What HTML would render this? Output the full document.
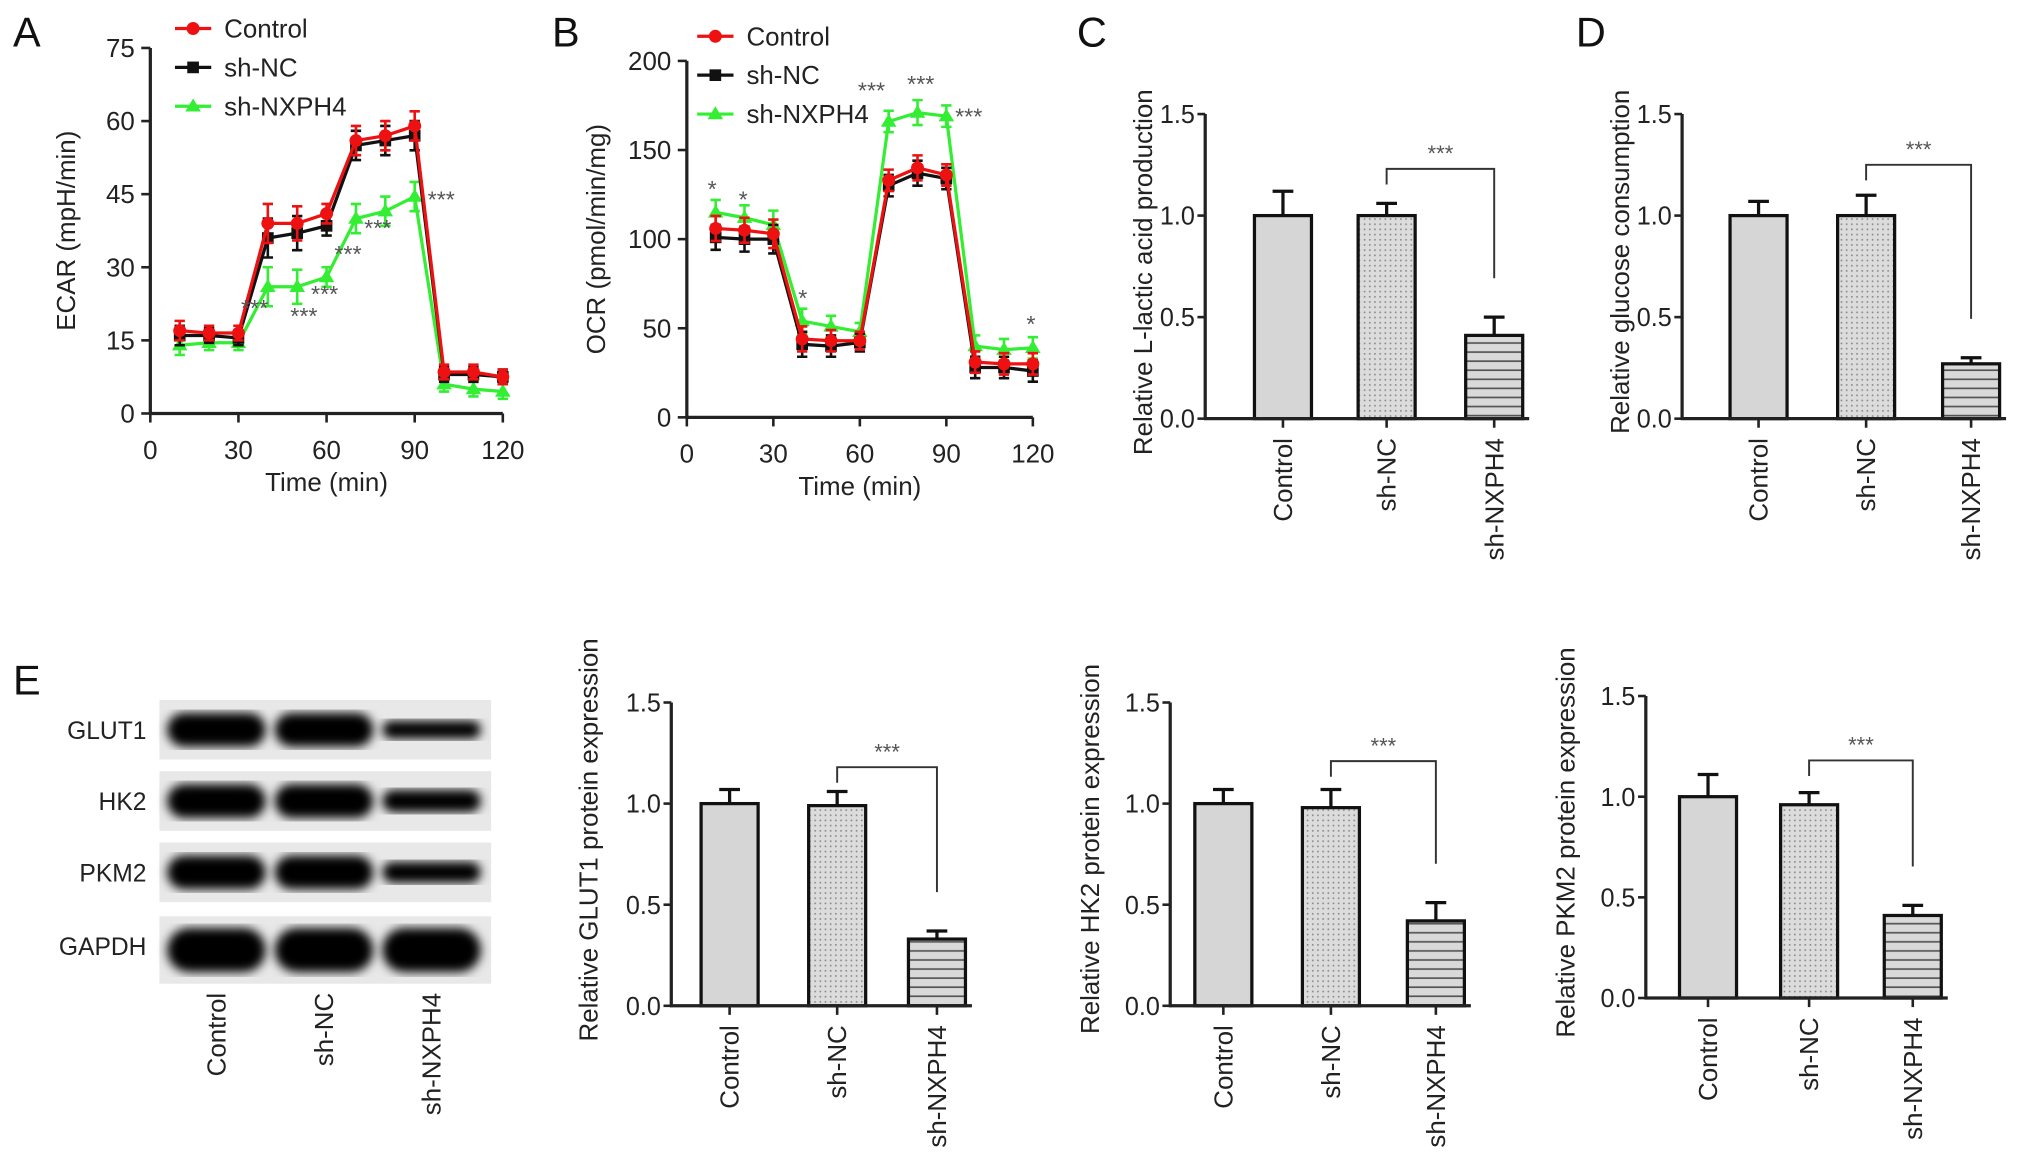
<!DOCTYPE html>
<html><head><meta charset="utf-8"><style>
html,body{margin:0;padding:0;background:#fff;}
svg{display:block;font-family:"Liberation Sans",Arial,sans-serif;}
</style></head><body>
<svg id="fig" width="2032" height="1173" viewBox="0 0 1568 905" preserveAspectRatio="none" xmlns="http://www.w3.org/2000/svg">
<defs>
<pattern id="dots" width="4" height="4" patternUnits="userSpaceOnUse"><rect width="4" height="4" fill="#dcdcdc"/><circle cx="1" cy="1" r="0.7" fill="#888"/></pattern>
<pattern id="stripes" width="6" height="7" patternUnits="userSpaceOnUse"><rect width="6" height="7" fill="#d9d9d9"/><rect y="5" width="6" height="1.3" fill="#555"/></pattern>
<filter id="blur"><feGaussianBlur stdDeviation="4"/></filter>
</defs>
</svg>
<script>
// ---- data ----
const times = [10,20,30,40,50,60,70,80,90,100,110,120];
const ecarControl = [17,16.5,16.5,39,39,41,56,57,59,8.5,8.5,7.5];
const ecarShNC = [16,16,15.5,36,37,38.5,55,56,57,8,8,7.5];
const ecarNXPH4 = [14,14.5,14.5,26,26,28,40,41.5,44.5,6,5,4.5];
const ecarErr = [2,1.5,1.5,4,3.5,2,3,3,3,1.5,1.5,1.5];
const ocrControl = [106,105,103,44,43,43,133,140,136,31,30,30];
const ocrShNC = [101,100,100,41,40,42,130,137,134,28,28,26];
const ocrNXPH4 = [115,112,108,54,51,48,166,171,169,40,38,39];
const ocrErr = [7,7,8,7,6,5,6,7,6,6,6,6];
const ecarTicks = [0,15,30,45,60,75];
const ocrTicks = [0,50,100,150,200];
const timeTicks = [0,30,60,90,120];
const groups = ['Control','sh-NC','sh-NXPH4'];
const barTicks = [0.0,0.5,1.0,1.5];
const lacticVals = [1.0,1.0,0.41];
const lacticErr = [0.12,0.06,0.09];
const glucoseVals = [1.0,1.0,0.27];
const glucoseErr = [0.07,0.1,0.03];
const glut1Vals = [1.0,0.99,0.33];
const glut1Err = [0.07,0.07,0.04];
const hk2Vals = [1.0,0.98,0.42];
const hk2Err = [0.07,0.09,0.09];
const pkm2Vals = [1.0,0.96,0.41];
const pkm2Err = [0.11,0.06,0.05];
const blotRows = ['GLUT1','HK2','PKM2','GAPDH'];
const blotIntensity = [[1,1,0.45],[1,1,0.6],[1,1,0.55],[1,1,1]];

const NS='http://www.w3.org/2000/svg';
const svg=document.getElementById('fig');
function el(tag,attrs,parent,text){const e=document.createElementNS(NS,tag);for(const k in attrs)e.setAttribute(k,attrs[k]);if(text!==undefined)e.textContent=text;(parent||svg).appendChild(e);return e;}
function fmt(v){return v.toFixed(1);}

[['A',10,36],['B',426,36],['C',831,36],['D',1216,36],['E',10,536]].forEach(p=>{
  const t=el('text',{x:p[1],y:p[2],'font-size':32,fill:'#111'},svg,p[0]);
  
  
});

function marker(shape,x,y,c,parent){
  if(shape==='circle')return el('circle',{cx:x,cy:y,r:5,fill:c},parent);
  if(shape==='tri')return el('path',{d:`M${x},${y-6}L${x+6},${y+4}L${x-6},${y+4}Z`,fill:c},parent);
  return el('rect',{x:x-4.5,y:y-4.5,width:9,height:9,fill:c},parent);
}

function lineChart(o){
  const g=el('g',{});
  
  
  const xs=t=>o.x0+(o.x1-o.x0)*t/120;
  const ys=v=>o.y0-(o.y0-o.y1)*v/o.ymax;
  el('line',{x1:o.x0,y1:o.y1,x2:o.x0,y2:o.y0+1,stroke:'#222','stroke-width':2.5},g);
  el('line',{x1:o.x0-1,y1:o.y0,x2:o.x1,y2:o.y0,stroke:'#222','stroke-width':2.5},g);
  o.yticks.forEach(v=>{el('line',{x1:o.x0-7,x2:o.x0,y1:ys(v),y2:ys(v),stroke:'#222','stroke-width':2},g);
    const t=el('text',{x:o.x0-12,y:ys(v)+7,'font-size':20,'text-anchor':'end',fill:'#222'},g,String(v));
    });
  timeTicks.forEach(v=>{el('line',{x1:xs(v),x2:xs(v),y1:o.y0,y2:o.y0+7,stroke:'#222','stroke-width':2},g);
    const t=el('text',{x:xs(v),y:o.y0+35,'font-size':20,'text-anchor':'middle',fill:'#222'},g,String(v));
    });
  const yl=el('text',{x:0,y:0,'font-size':20,'text-anchor':'middle',fill:'#222',transform:`translate(${o.ylx},${(o.y0+o.y1)/2}) rotate(-90)`},g,o.ylabel);
  
  const xl=el('text',{x:(o.x0+o.x1)/2,y:o.y0+60,'font-size':20,'text-anchor':'middle',fill:'#222'},g,'Time (min)');
  
  const series=[[o.nx,'#33ee33','sh-nxph4','tri'],[o.nc,'#111','sh-nc','sq'],[o.ctl,'#ee1111','control','circle']];
  series.forEach(s=>{
    const sg=el('g',{},g);
    
    el('polyline',{points:times.map((t,i)=>xs(t)+','+ys(s[0][i])).join(' '),fill:'none',stroke:s[1],'stroke-width':2.5},sg);
    times.forEach((t,i)=>{const x=xs(t),y=ys(s[0][i]),e=o.err[i]*(o.y0-o.y1)/o.ymax;
      el('path',{d:`M${x},${y-e}V${y+e}M${x-4},${y-e}H${x+4}M${x-4},${y+e}H${x+4}`,stroke:s[1],'stroke-width':2,fill:'none'},sg);
      const m=marker(s[3],x,y,s[1],sg);
      });
  });
  o.stars.forEach(s=>{const t=el('text',{x:s[0],y:s[1],'font-size':18,fill:'#555'},g,s[2]);
    });
  const lg=el('g',{},g);
  
  [['Control','#ee1111','circle'],['sh-NC','#111','sq'],['sh-NXPH4','#33ee33','tri']].forEach((l,i)=>{
    const y=o.ly+i*30;
    const eg=el('g',{},lg);
    
    el('line',{x1:o.lx-14,x2:o.lx+14,y1:y,y2:y,stroke:l[1],'stroke-width':2.5},eg);
    marker(l[2],o.lx,y,l[1],eg);
    el('text',{x:o.lx+24,y:y+7,'font-size':20,fill:'#222'},eg,l[0]);
  });
}
lineChart({name:'ecar-chart',x0:116,x1:388,y0:319,y1:37,ymax:75,yticks:ecarTicks,ctl:ecarControl,nc:ecarShNC,nx:ecarNXPH4,err:ecarErr,ylabel:'ECAR (mpH/min)',ylx:58,lx:149,ly:22,
  stars:[[186,244,'***'],[224,250,'***'],[240,233,'***'],[258,202,'***'],[281,182,'***'],[330,160,'***']]});
lineChart({name:'ocr-chart',x0:530,x1:797,y0:322,y1:47,ymax:200,yticks:ocrTicks,ctl:ocrControl,nc:ocrShNC,nx:ocrNXPH4,err:ocrErr,ylabel:'OCR (pmol/min/mg)',ylx:467,lx:552,ly:28,
  stars:[[546,152,'*'],[570,160,'*'],[616,236,'*'],[792,256,'*'],[662,76,'***'],[700,71,'***'],[737,96,'***']]});

function barChart(o){
  const g=el('g',{});
  
  const ys=v=>o.y0-(o.y0-o.y1)*v/1.5;
  const fills=['#d6d6d6','url(#dots)','url(#stripes)'];
  el('line',{x1:o.x0,y1:o.y1,x2:o.x0,y2:o.y0+1,stroke:'#222','stroke-width':2.5},g);
  barTicks.forEach(v=>{el('line',{x1:o.x0-6,x2:o.x0,y1:ys(v),y2:ys(v),stroke:'#222','stroke-width':2},g);
    const t=el('text',{x:o.x0-8,y:ys(v)+7,'font-size':20,'text-anchor':'end',fill:'#222',textLength:27,lengthAdjust:'spacingAndGlyphs'},g,fmt(v));
    });
  const bw=44;
  o.vals.forEach((v,i)=>{const cx=o.cx[i];
    const e=o.err[i];
    el('path',{d:`M${cx},${ys(v)}V${ys(v+e)}M${cx-8},${ys(v+e)}H${cx+8}`,stroke:'#111','stroke-width':2.5,fill:'none'},g);
    const r=el('rect',{x:cx-bw/2,y:ys(v),width:bw,height:o.y0-ys(v),fill:fills[i],stroke:'#111','stroke-width':2.5},g);
    
    el('line',{x1:cx,x2:cx,y1:o.y0,y2:o.y0+7,stroke:'#222','stroke-width':2},g);
    const t=el('text',{x:0,y:0,'font-size':20,'text-anchor':'end',fill:'#222',transform:`translate(${cx+7},${o.y0+15}) rotate(-90)`},g,groups[i]);
    });
  el('line',{x1:o.x0-1,y1:o.y0,x2:o.cx[2]+bw/2+5,y2:o.y0,stroke:'#222','stroke-width':2.5},g);
  const by=ys(o.bracket);
  const bk=el('path',{d:`M${o.cx[1]},${by+12}V${by}H${o.cx[2]}V${ys(o.vals[2]+o.err[2])-30}`,fill:'none',stroke:'#333','stroke-width':1.5},g);
  
  const st=el('text',{x:(o.cx[1]+o.cx[2])/2,y:by-6,'font-size':17,'text-anchor':'middle',fill:'#555'},g,'***');
  
  const yl=el('text',{x:0,y:0,'font-size':20,'text-anchor':'middle',fill:'#222',transform:`translate(${o.ylx},${o.ylc}) rotate(-90)`},g,o.ylabel);
  
}
barChart({name:'lactic-acid-chart',x0:930,y0:323,y1:88,cx:[990,1070,1153],vals:lacticVals,err:lacticErr,bracket:1.23,ylabel:'Relative L-lactic acid production',ylx:889,ylc:210});
barChart({name:'glucose-chart',x0:1298,y0:323,y1:88,cx:[1357,1440,1521],vals:glucoseVals,err:glucoseErr,bracket:1.25,ylabel:'Relative glucose consumption',ylx:1257,ylc:202});
barChart({name:'glut1-chart',x0:518,y0:776,y1:542,cx:[563,646,723],vals:glut1Vals,err:glut1Err,bracket:1.18,ylabel:'Relative GLUT1 protein expression',ylx:461,ylc:648});
barChart({name:'hk2-chart',x0:903,y0:776,y1:542,cx:[944,1027,1108],vals:hk2Vals,err:hk2Err,bracket:1.21,ylabel:'Relative HK2 protein expression',ylx:848,ylc:655});
barChart({name:'pkm2-chart',x0:1270,y0:770,y1:537,cx:[1318,1396,1476],vals:pkm2Vals,err:pkm2Err,bracket:1.18,ylabel:'Relative PKM2 protein expression',ylx:1215,ylc:650});

const wb=el('g',{});

const rowY=[540,595,650,707];
blotRows.forEach((name,r)=>{
  const y=rowY[r];
  const rg=el('g',{},wb);
  
  el('rect',{x:123,y:y,width:256,height:r===3?52:46,fill:'#e8e8e8'},rg);
  [167,250,333].forEach((cx,i)=>{
    const k=blotIntensity[r][i];
    const h=(r===3?30:22)*k+4;
    el('rect',{x:cx-38,y:y+23-h/2+(r===3?3:0),width:76,height:h,rx:h/2,fill:'#000',filter:'url(#blur)'},rg);
  });
  const t=el('text',{x:113,y:y+30,'font-size':19,'text-anchor':'end',fill:'#222'},rg,name);
  
});
groups.forEach((gname,i)=>{const cx=[167,250,333][i];
  const t=el('text',{x:0,y:0,'font-size':20,'text-anchor':'end',fill:'#222',transform:`translate(${cx+7},${766}) rotate(-90)`},wb,gname);
  });
</script>
</body></html>
